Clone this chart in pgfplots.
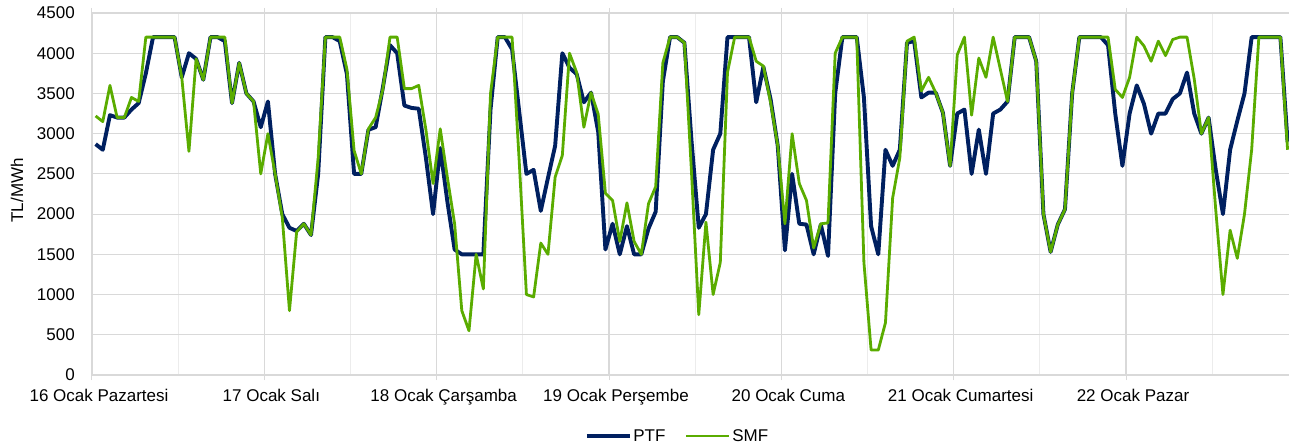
\documentclass[border=0pt]{standalone}
\usepackage{fontspec}
\setmainfont{Liberation Sans}
\usepackage{pgfplots}
\usepackage{pgfplotstable}
\pgfplotsset{compat=1.18}
\definecolor{ptfc}{RGB}{0,32,96}
\definecolor{smfc}{RGB}{90,172,0}
\definecolor{gridc}{RGB}{217,217,217}
\definecolor{gridm}{RGB}{236,236,236}

\pgfplotstableread{
ptf smf
2870 3220
2800 3150
3230 3600
3200 3200
3200 3200
3300 3450
3380 3400
3750 4200
4200 4200
4200 4200
4200 4200
4200 4200
3700 3700
4000 2780
3930 3930
3670 3670
4200 4200
4200 4200
4150 4200
3380 3380
3880 3880
3500 3500
3400 3400
3080 2500
3400 3000
2500 2500
2000 1960
1830 800
1790 1780
1880 1880
1740 1740
2500 2700
4200 4200
4200 4200
4150 4200
3740 3800
2500 2790
2500 2500
3050 3060
3080 3200
3570 3550
4100 4200
4000 4200
3350 3560
3320 3560
3310 3600
2700 3050
2000 2380
2820 3060
2150 2450
1560 1880
1500 800
1500 550
1500 1500
1500 1070
3300 3500
4200 4200
4200 4200
4050 4200
3270 2650
2500 1000
2550 970
2040 1640
2450 1500
2850 2460
4000 2730
3820 4000
3740 3760
3390 3080
3510 3510
3020 3240
1560 2260
1880 2170
1500 1660
1850 2140
1500 1660
1500 1500
1820 2130
2030 2340
3650 3880
4200 4200
4200 4200
4130 4130
2900 2500
1830 750
2000 1900
2800 1000
3000 1400
4200 3760
4200 4200
4200 4200
4200 4200
3390 3900
3830 3840
3430 3390
2850 2850
1550 1880
2500 3000
1880 2380
1870 2170
1500 1580
1870 1880
1480 1890
3500 4000
4200 4200
4200 4200
4200 4200
3450 1400
1850 310
1500 310
2800 650
2600 2200
2800 2700
4130 4150
4150 4200
3450 3530
3510 3700
3510 3510
3260 3260
2600 2600
3250 3980
3300 4200
2500 3230
3050 3940
2500 3700
3250 4200
3300 3800
3400 3400
4200 4200
4200 4200
4200 4200
3900 3900
2000 2000
1530 1530
1870 1870
2060 2060
3500 3500
4200 4200
4200 4200
4200 4200
4200 4200
4100 4200
3250 3550
2600 3450
3250 3700
3600 4200
3370 4090
3000 3900
3250 4150
3250 3970
3430 4170
3500 4200
3760 4200
3250 3680
3000 3000
3200 3200
2550 2050
2000 1000
2800 1800
3160 1450
3500 2000
4200 2800
4200 4200
4200 4200
4200 4200
4200 4200
2900 2800
}\pricedata

\begin{document}
\begin{tikzpicture}
\begin{axis}[
  scale only axis, width=1197pt, height=362pt,
  xmin=0, xmax=166.7, ymin=0, ymax=4500,
  ytick={0,500,...,4500},
  xtick={0,24,...,144},
  minor xtick={12,36,...,156},
  xticklabels={16 Ocak Pazartesi,17 Ocak Salı,18 Ocak Çarşamba,19 Ocak Perşembe,20 Ocak Cuma,21 Ocak Cumartesi,22 Ocak Pazar},
  grid=both,
  major grid style={draw=gridc, line width=1.1pt},
  minor grid style={draw=gridm, line width=1.1pt},
  axis line style={draw=none},
  tick align=outside,
  major tick length=5pt, minor tick length=0pt,
  ytick style={draw=none},
  xtick style={draw=gridc, line width=1pt},
  /pgf/number format/assume math mode=true,
  /pgf/number format/1000 sep={},
  tick label style={font=\fontsize{17}{20}\selectfont},
  yticklabel style={anchor=east, inner sep=0pt, xshift=-12pt},
  xticklabel style={anchor=base, inner sep=0pt, yshift=-21pt, xshift=7pt},
  ylabel={TL/MWh},
  ylabel style={at={(axis description cs:0,0.51)}, anchor=center, yshift=75pt, font=\fontsize{17}{20}\selectfont},
  legend style={at={(axis description cs:0.489,0)}, anchor=center, yshift=-61pt, draw=none, fill=none,
    legend columns=2, font=\fontsize{17}{20}\selectfont,
    /tikz/every even column/.append style={column sep=18pt},
    nodes={inner sep=1.5pt}},
  legend image code/.code={\draw[#1] (0pt,0pt) -- (43pt,0pt);},
]
\coordinate (SW) at (rel axis cs:0,0);
\coordinate (NE) at (rel axis cs:1,1);
\addplot[ptfc, line width=3.9pt, line join=round] table[x expr=\coordindex+0.5, y=ptf] {\pricedata};
\addlegendentry{PTF}
\addplot[smfc, line width=2.8pt, line join=round] table[x expr=\coordindex+0.5, y=smf] {\pricedata};
\addlegendentry{SMF}
\end{axis}
\pgfresetboundingbox
\path ([shift={(-92pt,-71pt)}]SW) rectangle ([shift={(0pt,13pt)}]NE);
\end{tikzpicture}
\end{document}
